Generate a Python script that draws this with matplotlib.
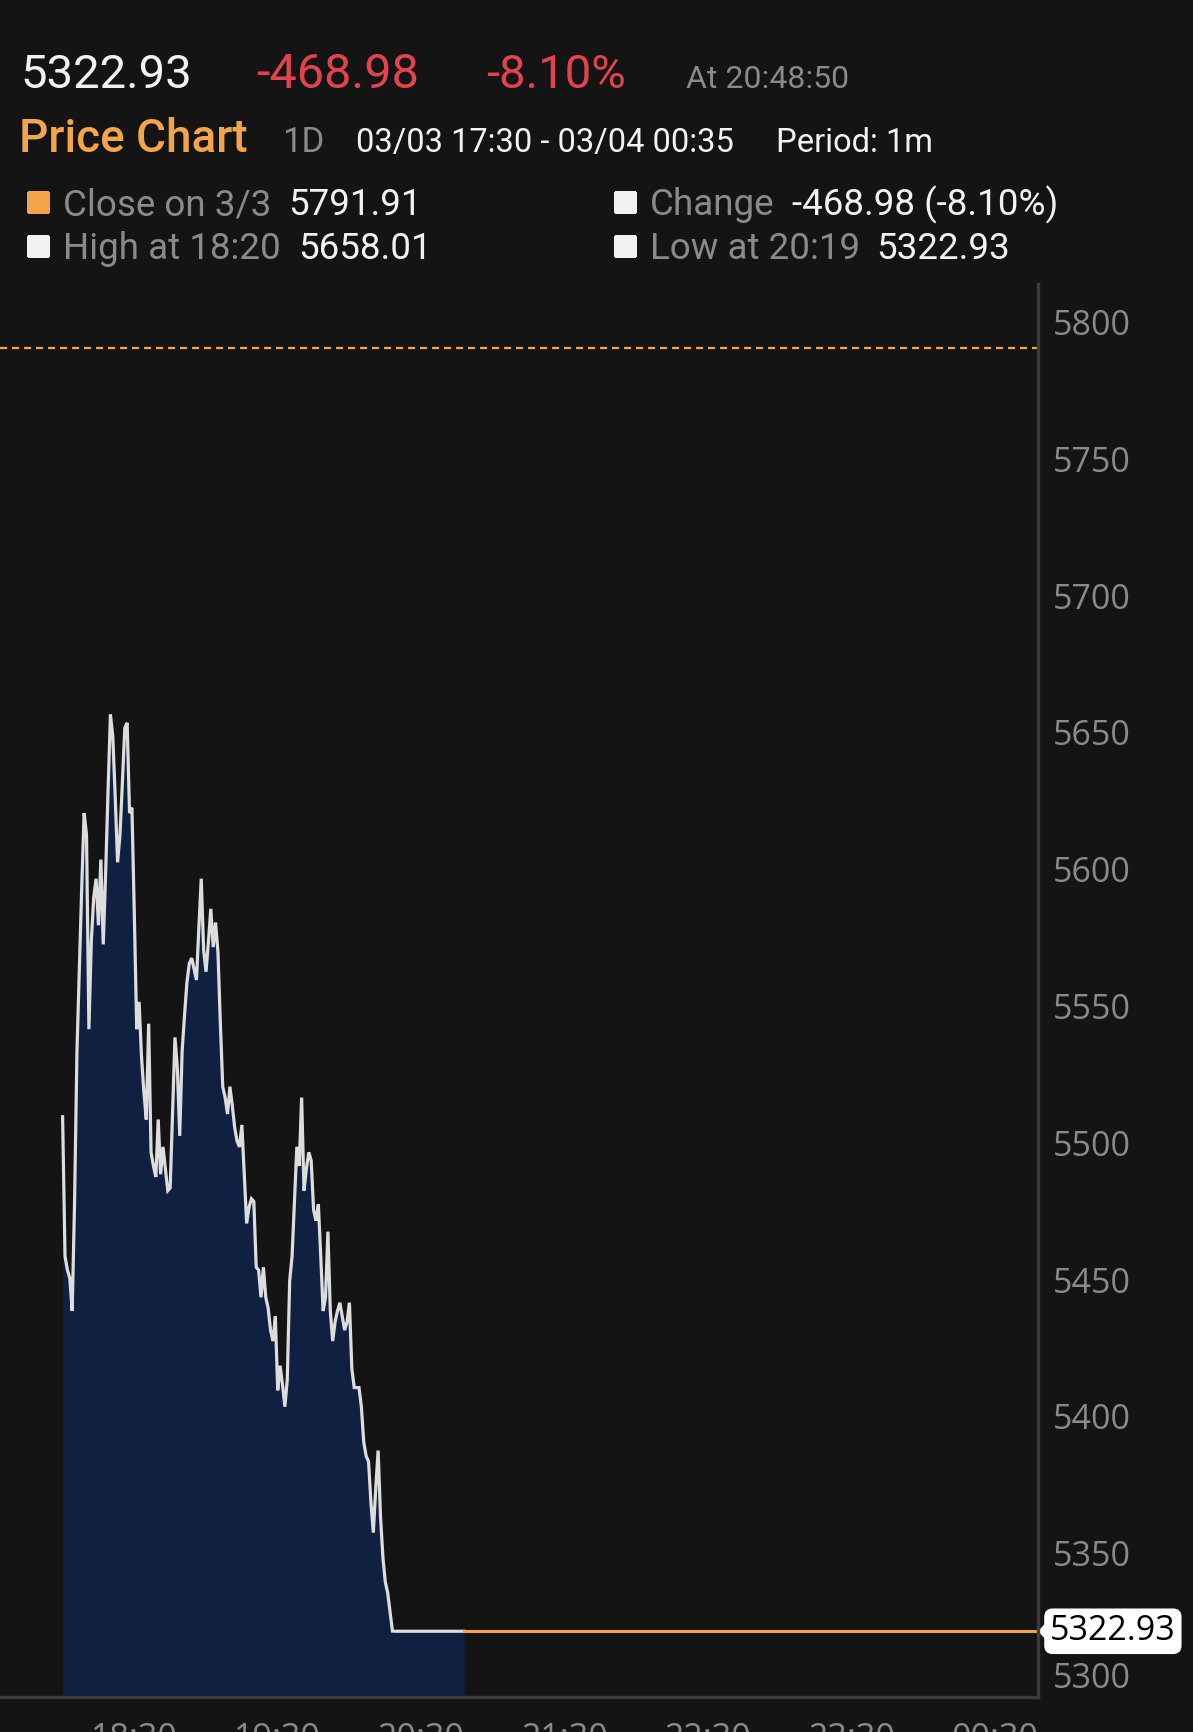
import numpy as np
import matplotlib
matplotlib.use("Agg")
import matplotlib.pyplot as plt
from matplotlib.patches import Rectangle, Polygon
from matplotlib.transforms import ScaledTranslation, blended_transform_factory

# ==============================
# Data (1-minute closes from 18:00)
# ==============================

prices = [
    5511, 5460, 5455, 5452, 5440, 5480, 5535, 5565, 5595, 5622,
    5614, 5543, 5575, 5591, 5598, 5581, 5605, 5574, 5600, 5630,
    5658.01, 5650, 5628, 5604, 5614, 5633, 5653, 5655, 5622, 5624,
    5585, 5543, 5553, 5533, 5520, 5510, 5545, 5498, 5493, 5489,
    5510, 5490, 5500, 5492, 5484, 5485, 5512, 5540, 5529, 5504,
    5535, 5548, 5560, 5567, 5569, 5565, 5561, 5580, 5598, 5572,
    5564, 5575, 5587, 5573, 5582, 5571, 5545, 5522, 5518, 5512,
    5522, 5515, 5507, 5502, 5500, 5508, 5490, 5472, 5478, 5481,
    5480, 5456, 5455, 5445, 5456, 5445, 5441, 5433, 5429, 5438,
    5411, 5420, 5413, 5405, 5415, 5451, 5460, 5480, 5500, 5493,
    5518, 5484, 5492, 5498, 5495, 5477, 5473, 5479, 5460, 5440,
    5445, 5469, 5440, 5429, 5436, 5440, 5443, 5438, 5433, 5436,
    5443, 5419, 5412, 5412, 5412, 5405, 5392, 5387, 5385, 5370,
    5359, 5375, 5389, 5365, 5350, 5341, 5337, 5330, 5323, 5322.93,
    5322.93, 5322.93, 5322.93, 5322.93, 5322.93, 5322.93, 5322.93, 5322.93, 5322.93, 5322.93,
    5322.93, 5322.93, 5322.93, 5322.93, 5322.93, 5322.93, 5322.93, 5322.93, 5322.93, 5322.93,
    5322.93, 5322.93, 5322.93, 5322.93, 5322.93, 5322.93, 5322.93, 5322.93, 5322.93,
]

prev_close = 5791.91
last_price = 5322.93

y_ticks = [5300, 5350, 5400, 5450, 5500, 5550, 5600, 5650, 5700, 5750, 5800]
x_tick_minutes = [30, 90, 150, 210, 270, 330, 390]   # minutes after 18:00
x_tick_labels = ["18:30", "19:30", "20:30", "21:30", "22:30", "23:30", "00:30"]

# ==============================
# Style
# ==============================

BG = "#141414"
FILL = "#0f2041"
LINE = "#dddddd"
ORANGE = "#f2a54a"
RED = "#e2434f"
GRAY = "#8a8a8a"
WHITE = "#f2f2f2"
SPINE = "#3c3c3c"

W, H = 1193, 1732
HEAD_FONT = ["Roboto", "DejaVu Sans"]
AXIS_FONT = ["Open Sans", "DejaVu Sans"]

fig = plt.figure(figsize=(W / 100, H / 100), dpi=100, facecolor=BG)


def fx(x):
    return x / W


def fy(y):
    return 1 - y / H


# ==============================
# Header
# ==============================

def head(x, y, s, color, size, weight="normal"):
    fig.text(fx(x), fy(y), s, color=color, fontsize=size, family=HEAD_FONT,
             weight=weight, va="baseline", ha="left")


head(20, 88, "5322.93", WHITE, 34)
head(256, 88, "-468.98", RED, 35)
head(486, 88, "-8.10%", RED, 34)
head(686, 88, "At 20:48:50", GRAY, 23)

head(19, 152, "Price Chart", ORANGE, 33, weight="medium")
head(282, 152, "1D", GRAY, 25)
head(356, 152, "03/03 17:30 - 03/04 00:35", WHITE, 23.5)
head(776, 152, "Period: 1m", WHITE, 23.5)

rows = [
    (28, 215, ORANGE, "Close on 3/3", "5791.91", 288),
    (28, 259, WHITE, "High at 18:20", "5658.01", 298),
    (615, 215, WHITE, "Change", "-468.98 (-8.10%)", 792),
    (615, 259, WHITE, "Low at 20:19", "5322.93", 876),
]
for sx, by, sq, label, val, vx in rows:
    fig.patches.append(Rectangle((fx(sx), fy(by - 3)), fx(20), 20 / H,
                                 transform=fig.transFigure, color=sq, antialiased=False))
    head(sx + 35, by, label, GRAY, 26.5)
    head(vx, by, val, WHITE, 26.5)

# ==============================
# Chart
# ==============================

ax = fig.add_axes([0, 35 / H, 1038 / W, (1697 - 284) / H])
ax.set_facecolor(BG)

minutes = np.arange(len(prices))
y_lo, y_hi = 5298.9, 5815.4

ax.fill_between(minutes, prices, y_lo, color=FILL, linewidth=0)
ax.plot(minutes, prices, color=LINE, linewidth=2.3, solid_joinstyle="miter")
ax.plot([minutes[-1], 420], [last_price, last_price], color=ORANGE, linewidth=2.2)
ax.axhline(prev_close, color=ORANGE, linewidth=1.6, linestyle=(0, (3.2, 2.2)))

ax.set_xlim(-26.2, 408.1)
ax.set_ylim(y_lo, y_hi)

for side in ["left", "top"]:
    ax.spines[side].set_visible(False)
for side in ["right", "bottom"]:
    ax.spines[side].set_color(SPINE)
    ax.spines[side].set_linewidth(2.4)

ax.yaxis.tick_right()
ax.set_yticks(y_ticks)
ax.set_yticklabels([str(t) for t in y_ticks])
ax.tick_params(axis="y", length=0, pad=11, labelcolor=GRAY, labelsize=24.5)
ax.set_xticks(x_tick_minutes)
ax.set_xticklabels(x_tick_labels)
ax.tick_params(axis="x", length=0, pad=18, labelcolor=GRAY, labelsize=24.5)
for lbl in ax.get_yticklabels() + ax.get_xticklabels():
    lbl.set_family(AXIS_FONT)

# lift labels slightly, the bottom one more so it clears the axis
ylabels = ax.get_yticklabels()
for lbl in ylabels:
    up = 19 if lbl.get_text() == "5300" else 4
    lbl.set_transform(lbl.get_transform() + ScaledTranslation(0, up / 100, fig.dpi_scale_trans))

# last price tag
trans = blended_transform_factory(ax.transAxes, ax.transData)
ax.text(1050 / 1038, last_price, f"{last_price:.2f}", transform=trans, color="black",
        fontsize=24.5, family=AXIS_FONT, va="center", ha="left", clip_on=False,
        bbox=dict(boxstyle="round,pad=0.17,rounding_size=0.25", fc="white", ec="none"))
tip = 12 / 1038
half = 13 / 2.737
ax.add_patch(Polygon([(1.0, last_price), (1.0 + tip, last_price + half),
                      (1.0 + tip, last_price - half)], closed=True, transform=trans,
                     fc="white", ec="none", clip_on=False))

fig.savefig("out.png", dpi=100, facecolor=BG)
